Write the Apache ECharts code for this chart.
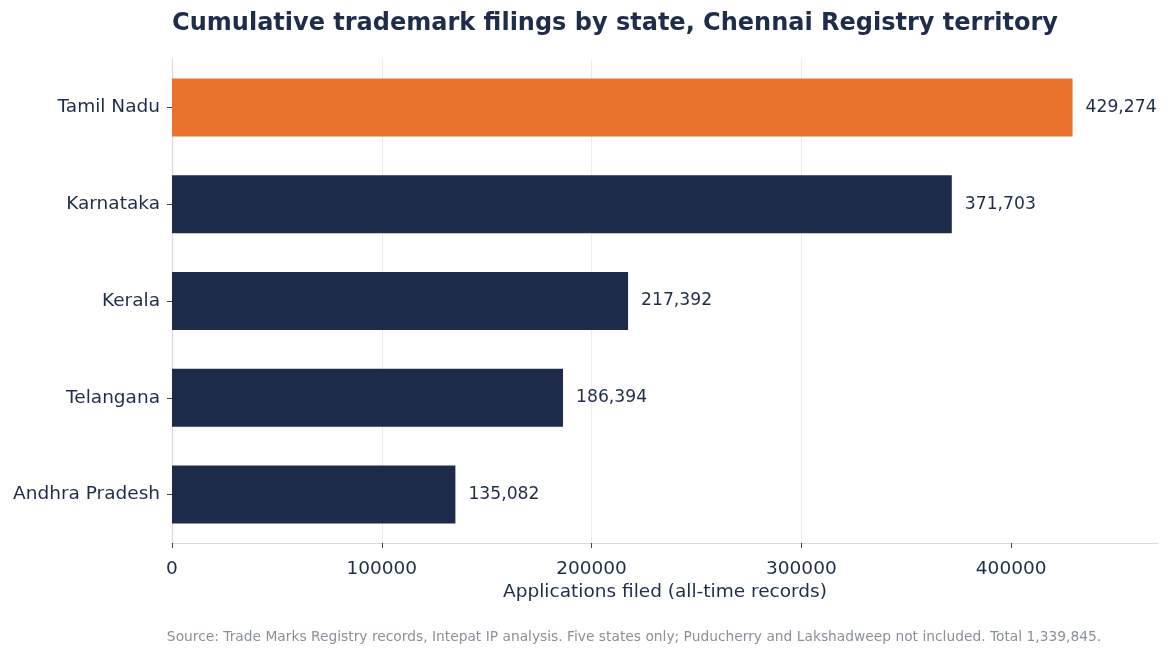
<html>
  <head>
    <script src="https://cdn.jsdelivr.net/npm/echarts@6.0.0/dist/echarts.min.js"></script>
    <title>Trademark filings by state</title>
  </head>
  <body style="margin:0; background-color:#ffffff;">
    <div id="chart" style="width:1170px; height:657px;"></div>
    <script>
      // data, bottom to top as drawn
      const states = ['Andhra Pradesh', 'Telangana', 'Kerala', 'Karnataka', 'Tamil Nadu'];
      const filings = [135082, 186394, 217392, 371703, 429274];
      const xTicks = [0, 100000, 200000, 300000, 400000];

      const navy = '#1c2b4a';
      const orange = '#e8732c';
      const textColor = '#1f2d4a';
      const font = 'DejaVu Sans';

      const chart = echarts.init(document.getElementById('chart'));

      const option = {
        backgroundColor: '#ffffff',
        textStyle: { fontFamily: font },
        title: [
          {
            text: 'Cumulative trademark filings by state, Chennai Registry territory',
            left: 610,
            textAlign: 'center',
            top: -7,
            textStyle: { fontFamily: font, fontSize: 24, fontWeight: 'bold', color: textColor }
          },
          {
            text: 'Source: Trade Marks Registry records, Intepat IP analysis. Five states only; Puducherry and Lakshadweep not included. Total 1,339,845.',
            left: 629,
            textAlign: 'center',
            top: 619,
            textStyle: { fontFamily: font, fontSize: 13.8, fontWeight: 'normal', color: '#8a909a' }
          }
        ],
        grid: { left: 172, right: 12, top: 59, bottom: 114, containLabel: false },
        xAxis: {
          type: 'value',
          min: 0,
          max: 470000,
          interval: 100000,
          name: 'Applications filed (all-time records)',
          nameLocation: 'middle',
          nameGap: 31,
          nameMoveOverlap: false,
          nameTextStyle: { fontFamily: font, fontSize: 18.5, color: textColor },
          axisLine: { show: true, lineStyle: { color: '#d9d9d9', width: 1.2 } },
          axisTick: { show: true, length: 5, lineStyle: { color: '#3a4660' }, customValues: xTicks },
          axisLabel: { fontFamily: font, fontSize: 18.5, color: textColor, margin: 8, customValues: xTicks, formatter: v => String(v) },
          splitLine: { show: true, showMaxLine: false, lineStyle: { color: '#ececec', width: 1 } }
        },
        yAxis: {
          type: 'category',
          data: states,
          axisLine: { show: true, lineStyle: { color: '#d9d9d9', width: 1.2 } },
          axisTick: { show: true, alignWithLabel: true, length: 5, lineStyle: { color: '#3a4660' } },
          axisLabel: { fontFamily: font, fontSize: 18.5, color: textColor, margin: 12 },
          splitLine: { show: false }
        },
        series: [
          {
            type: 'bar',
            barWidth: 58,
            data: filings.map((v, i) => ({
              value: v,
              itemStyle: { color: i === filings.length - 1 ? orange : navy }
            })),
            label: {
              show: true,
              position: 'right',
              distance: 13,
              fontFamily: font,
              fontSize: 17.2,
              color: textColor,
              formatter: p => p.value.toLocaleString('en-US')
            }
          }
        ]
      };

      chart.setOption(option);
    </script>
  </body>
</html>
